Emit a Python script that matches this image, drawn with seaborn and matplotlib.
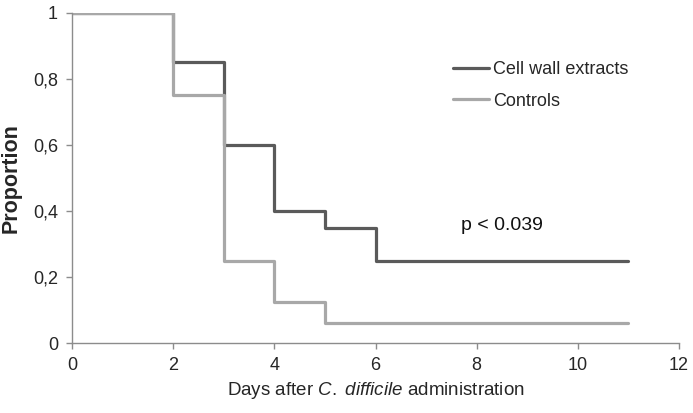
import numpy as np
import pandas as pd
import matplotlib
matplotlib.use("Agg")
import matplotlib.pyplot as plt
import seaborn as sns
from matplotlib.ticker import FuncFormatter

# Kaplan-Meier style step data
cell_days = [0, 2, 3, 4, 5, 6, 11]
cell_prop = [1.0, 0.85, 0.6, 0.4, 0.35, 0.25, 0.25]
ctrl_days = [0, 2, 3, 4, 5, 11]
ctrl_prop = [1.0, 0.75, 0.25, 0.125, 0.0625, 0.0625]
groups = ["Cell wall extracts", "Controls"]

df = pd.concat([
    pd.DataFrame({"day": cell_days, "prop": cell_prop, "group": groups[0]}),
    pd.DataFrame({"day": ctrl_days, "prop": ctrl_prop, "group": groups[1]}),
])

sns.set_style("white")
plt.rcParams["font.family"] = ["Liberation Sans", "DejaVu Sans"]
plt.rcParams["mathtext.fontset"] = "custom"
plt.rcParams["mathtext.rm"] = "Liberation Sans"
plt.rcParams["mathtext.it"] = "Liberation Sans:italic"

fig = plt.figure(figsize=(6.93, 4.13), dpi=100)
ax = fig.add_axes([0.1039, 0.1688, 0.8759, 0.8004])

sns.lineplot(data=df, x="day", y="prop", hue="group", hue_order=groups,
             palette=["#5a5a5a", "#a8a8a8"], drawstyle="steps-post",
             estimator=None, linewidth=2.3, ax=ax, legend=True)

ax.set_xlim(0, 12)
ax.set_ylim(0, 1)
ax.set_xticks(range(0, 13, 2))
ax.set_yticks([0, 0.2, 0.4, 0.6, 0.8, 1.0])
ax.yaxis.set_major_formatter(FuncFormatter(
    lambda v, p: ("%g" % round(v, 2)).replace(".", ",")))

for s in ["top", "right"]:
    ax.spines[s].set_visible(False)
for s in ["left", "bottom"]:
    ax.spines[s].set_color("#8c8c8c")
    ax.spines[s].set_linewidth(1.0)
ax.tick_params(axis="both", direction="out", length=4, width=1,
               bottom=True, left=True,
               color="#8c8c8c", labelsize=13, labelcolor="#262626", pad=6)

ax.set_ylabel("Proportion", fontsize=15.5, fontweight="bold", labelpad=8)
ax.set_xlabel("Days after $\\it{C.}$ $\\it{difficile}$ administration",
              fontsize=13.5)

ax.text(7.69, 0.355, "p < 0.039", fontsize=14, va="center", ha="left",
        color="#111111")

ax.legend(frameon=False, loc="center left", bbox_to_anchor=(0.628, 0.78),
          fontsize=13, handlelength=2.0, handletextpad=0.2,
          borderaxespad=0, borderpad=0, labelspacing=0.8, title=None)

fig.savefig("out.png", dpi=100)
